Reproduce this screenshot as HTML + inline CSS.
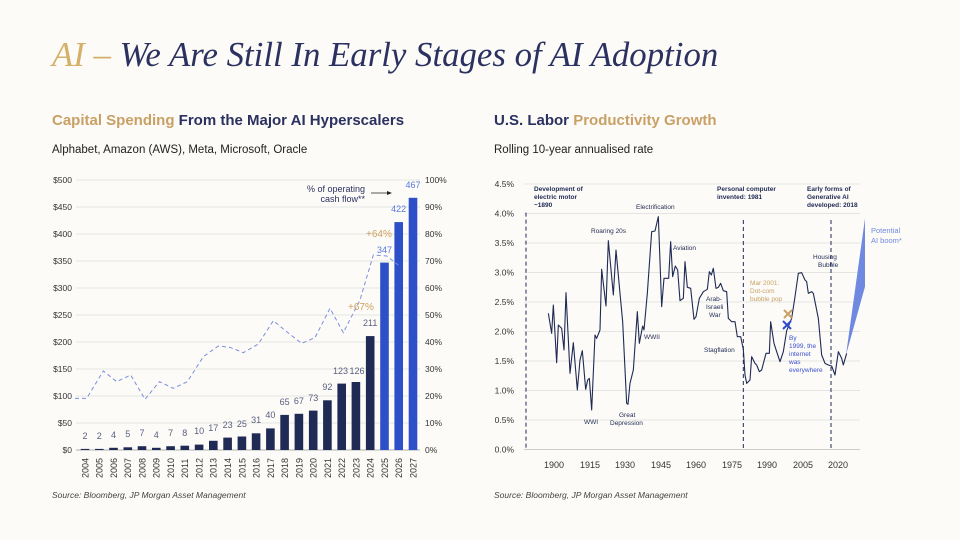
<!DOCTYPE html>
<html><head><meta charset="utf-8"><style>
body{margin:0;background:#fcfbf7;}
svg{display:block;font-family:"Liberation Sans",sans-serif;}
</style></head><body>
<svg width="960" height="540" viewBox="0 0 960 540">
<rect width="960" height="540" fill="#fcfbf7"/>
<text x="52" y="66" font-family="Liberation Serif" font-style="italic" font-size="34.8" fill="#2b3160"><tspan fill="#d4b06a">AI – </tspan>We Are Still In Early Stages of AI Adoption</text>
<text x="52" y="125" font-size="15" font-weight="bold" fill="#2b3160"><tspan fill="#c9a066">Capital Spending</tspan> From the Major AI Hyperscalers</text>
<text x="52" y="153" font-size="11.5" fill="#222">Alphabet, Amazon (AWS), Meta, Microsoft, Oracle</text>
<text x="494" y="125" font-size="15" font-weight="bold" fill="#2b3160">U.S. Labor <tspan fill="#c9a066">Productivity Growth</tspan></text>
<text x="494" y="153" font-size="11.5" fill="#222">Rolling 10-year annualised rate</text>
<text x="52" y="498" font-size="8.5" font-style="italic" fill="#444">Source: Bloomberg, JP Morgan Asset Management</text>
<text x="494" y="498" font-size="8.5" font-style="italic" fill="#444">Source: Bloomberg, JP Morgan Asset Management</text>

<!-- left chart -->
<g font-size="8.5" fill="#333">
<g stroke="#ddd" stroke-width="0.8">
<line x1="76" x2="420" y1="180" y2="180"/><line x1="76" x2="420" y1="207" y2="207"/><line x1="76" x2="420" y1="234" y2="234"/><line x1="76" x2="420" y1="261" y2="261"/><line x1="76" x2="420" y1="288" y2="288"/><line x1="76" x2="420" y1="315" y2="315"/><line x1="76" x2="420" y1="342" y2="342"/><line x1="76" x2="420" y1="369" y2="369"/><line x1="76" x2="420" y1="396" y2="396"/><line x1="76" x2="420" y1="423" y2="423"/>
</g>
<line x1="76" x2="420" y1="450" y2="450" stroke="#999" stroke-width="0.8"/>
<g text-anchor="end">
<text x="72" y="183">$500</text><text x="72" y="210">$450</text><text x="72" y="237">$400</text><text x="72" y="264">$350</text><text x="72" y="291">$300</text><text x="72" y="318">$250</text><text x="72" y="345">$200</text><text x="72" y="372">$150</text><text x="72" y="399">$100</text><text x="72" y="426">$50</text><text x="72" y="453">$0</text>
</g>
<g>
<text x="425" y="183">100%</text><text x="425" y="210">90%</text><text x="425" y="237">80%</text><text x="425" y="264">70%</text><text x="425" y="291">60%</text><text x="425" y="318">50%</text><text x="425" y="345">40%</text><text x="425" y="372">30%</text><text x="425" y="399">20%</text><text x="425" y="426">10%</text><text x="425" y="453">0%</text>
</g>
</g>
<g fill="#1f2a55">
<rect x="80.7" y="448.9" width="8.6" height="1.1"/>
<rect x="95.0" y="448.9" width="8.6" height="1.1"/>
<rect x="109.2" y="447.8" width="8.6" height="2.2"/>
<rect x="123.5" y="447.3" width="8.6" height="2.7"/>
<rect x="137.7" y="446.2" width="8.6" height="3.8"/>
<rect x="152.0" y="447.8" width="8.6" height="2.2"/>
<rect x="166.3" y="446.2" width="8.6" height="3.8"/>
<rect x="180.5" y="445.7" width="8.6" height="4.3"/>
<rect x="194.8" y="444.6" width="8.6" height="5.4"/>
<rect x="209.0" y="440.8" width="8.6" height="9.2"/>
<rect x="223.3" y="437.6" width="8.6" height="12.4"/>
<rect x="237.6" y="436.5" width="8.6" height="13.5"/>
<rect x="251.8" y="433.3" width="8.6" height="16.7"/>
<rect x="266.1" y="428.4" width="8.6" height="21.6"/>
<rect x="280.3" y="414.9" width="8.6" height="35.1"/>
<rect x="294.6" y="413.8" width="8.6" height="36.2"/>
<rect x="308.9" y="410.6" width="8.6" height="39.4"/>
<rect x="323.1" y="400.3" width="8.6" height="49.7"/>
<rect x="337.4" y="383.6" width="8.6" height="66.4"/>
<rect x="351.6" y="382.0" width="8.6" height="68.0"/>
<rect x="365.9" y="336.1" width="8.6" height="113.9"/>
</g>
<g fill="#2d4fc8">
<rect x="380.2" y="262.6" width="8.6" height="187.4"/>
<rect x="394.4" y="222.1" width="8.6" height="227.9"/>
<rect x="408.7" y="197.8" width="8.6" height="252.2"/>
</g>
<g font-size="9" text-anchor="middle" fill="#5a6080">
<text x="85.0" y="439">2</text><text x="99.3" y="439">2</text><text x="113.5" y="438">4</text><text x="127.8" y="437">5</text><text x="142.0" y="436">7</text><text x="156.3" y="438">4</text><text x="170.6" y="436">7</text><text x="184.8" y="436">8</text><text x="199.1" y="434">10</text><text x="213.3" y="431">17</text><text x="227.6" y="428">23</text><text x="241.9" y="427">25</text><text x="256.1" y="423">31</text><text x="270.4" y="418">40</text><text x="284.6" y="405">65</text><text x="298.9" y="404">67</text><text x="313.2" y="401">73</text><text x="327.4" y="390">92</text><text x="340.5" y="374">123</text><text x="357" y="374">126</text><text x="370.2" y="326">211</text>
<g fill="#5a78e0"><text x="384.5" y="253">347</text><text x="398.7" y="212">422</text><text x="413" y="188">467</text></g>
</g>
<g font-size="9" fill="#333">
<text transform="translate(88.4,478) rotate(-90)">2004</text><text transform="translate(102.7,478) rotate(-90)">2005</text><text transform="translate(116.9,478) rotate(-90)">2006</text><text transform="translate(131.2,478) rotate(-90)">2007</text><text transform="translate(145.4,478) rotate(-90)">2008</text><text transform="translate(159.7,478) rotate(-90)">2009</text><text transform="translate(174,478) rotate(-90)">2010</text><text transform="translate(188.2,478) rotate(-90)">2011</text><text transform="translate(202.5,478) rotate(-90)">2012</text><text transform="translate(216.7,478) rotate(-90)">2013</text><text transform="translate(231,478) rotate(-90)">2014</text><text transform="translate(245.3,478) rotate(-90)">2015</text><text transform="translate(259.5,478) rotate(-90)">2016</text><text transform="translate(273.8,478) rotate(-90)">2017</text><text transform="translate(288,478) rotate(-90)">2018</text><text transform="translate(302.3,478) rotate(-90)">2019</text><text transform="translate(316.6,478) rotate(-90)">2020</text><text transform="translate(330.8,478) rotate(-90)">2021</text><text transform="translate(345.1,478) rotate(-90)">2022</text><text transform="translate(359.3,478) rotate(-90)">2023</text><text transform="translate(373.6,478) rotate(-90)">2024</text><text transform="translate(387.9,478) rotate(-90)">2025</text><text transform="translate(402.1,478) rotate(-90)">2026</text><text transform="translate(416.4,478) rotate(-90)">2027</text>
</g>
<g transform="translate(40,170) scale(0.33333)">
<polyline fill="none" stroke="#7b8fe0" stroke-width="1" vector-effect="non-scaling-stroke" stroke-dasharray="4,3" points="105,685 140,685 190,603 230,635 272,615 315,688 358,635 400,655 442,635 490,560 535,528 570,532 610,548 655,522 700,452 740,485 785,520 825,503 870,415 910,488 960,390 1000,255 1040,258 1075,285"/>
</g>
<text x="348" y="310" font-size="10" fill="#d0a060">+67%</text>
<text x="366" y="237" font-size="10" fill="#d0a060">+64%</text>
<text x="365" y="192" font-size="9" text-anchor="end" fill="#2b3160">% of operating</text>
<text x="365" y="202" font-size="9" text-anchor="end" fill="#2b3160">cash flow**</text>
<line x1="371" y1="193" x2="390" y2="193" stroke="#222" stroke-width="0.8"/>
<polygon points="392,193 387,191 387,195" fill="#222"/>

<!-- right chart -->
<g font-size="8.5" fill="#333">
<g stroke="#ddd" stroke-width="0.8">
<line x1="524" x2="860" y1="184" y2="184"/><line x1="524" x2="860" y1="213.5" y2="213.5"/><line x1="524" x2="860" y1="243" y2="243"/><line x1="524" x2="860" y1="272.5" y2="272.5"/><line x1="524" x2="860" y1="302" y2="302"/><line x1="524" x2="860" y1="331.5" y2="331.5"/><line x1="524" x2="860" y1="361" y2="361"/><line x1="524" x2="860" y1="390.5" y2="390.5"/><line x1="524" x2="860" y1="420" y2="420"/>
</g>
<line x1="524" x2="860" y1="449.5" y2="449.5" stroke="#bbb" stroke-width="0.8"/>
<g text-anchor="end">
<text x="514" y="187">4.5%</text><text x="514" y="216.5">4.0%</text><text x="514" y="246">3.5%</text><text x="514" y="275.5">3.0%</text><text x="514" y="305">2.5%</text><text x="514" y="334.5">2.0%</text><text x="514" y="364">1.5%</text><text x="514" y="393.5">1.0%</text><text x="514" y="423">0.5%</text><text x="514" y="452.5">0.0%</text>
</g>
<g text-anchor="middle" font-size="9">
<text x="554" y="468">1900</text><text x="590" y="468">1915</text><text x="625" y="468">1930</text><text x="661" y="468">1945</text><text x="696" y="468">1960</text><text x="732" y="468">1975</text><text x="767" y="468">1990</text><text x="803" y="468">2005</text><text x="838" y="468">2020</text>
</g>
</g>
<g transform="translate(490,170) scale(0.33333)">
<polyline fill="none" stroke="#1f2a55" stroke-width="1.1" vector-effect="non-scaling-stroke" stroke-linejoin="round" points="175,430 185,490 190,405 200,578 205,465 215,475 222,540 228,368 240,610 250,518 262,660 270,570 277,542 287,658 293,630 298,625 305,720 315,495 320,505 330,480 335,298 348,408 355,212 370,375 378,240 390,370 398,455 410,700 414,703 420,640 430,600 442,425 448,520 458,468 462,480 472,370 485,185 495,183 505,140 515,410 522,325 536,325 542,215 548,320 556,288 563,300 570,392 580,385 585,275 592,352 602,355 612,448 618,440 628,385 640,365 652,358 658,305 664,315 670,295 678,355 685,352 692,340 700,362 710,365 715,445 725,455 735,455 742,500 752,500 760,538 765,615 770,640 780,630 785,560 795,580 800,585 808,605 815,600 828,550 838,550 842,455 852,520 860,545 870,575 880,545 890,482 905,445 915,380 925,310 935,308 945,330 950,335 955,370 965,365 970,370 985,445 995,555 1005,580 1015,585 1025,588 1035,615 1045,545 1055,565 1060,585 1070,550"/>
<polygon points="1068,555 1125,145 1125,350" fill="#7089e0"/>
<g stroke="#1f2a55" stroke-width="1" stroke-dasharray="4,3">
<line x1="108" y1="128" x2="108" y2="838" vector-effect="non-scaling-stroke"/>
<line x1="760" y1="150" x2="760" y2="838" vector-effect="non-scaling-stroke"/>
<line x1="1023" y1="150" x2="1023" y2="838" vector-effect="non-scaling-stroke"/>
</g>
</g>
<g font-size="6.5" fill="#1f2a55">
<text x="534" y="191" font-weight="bold">Development of</text><text x="534" y="199" font-weight="bold">electric motor</text><text x="534" y="207" font-weight="bold">~1890</text>
<text x="717" y="191" font-weight="bold">Personal computer</text><text x="717" y="199" font-weight="bold">invented: 1981</text>
<text x="807" y="191" font-weight="bold">Early forms of</text><text x="807" y="199" font-weight="bold">Generative AI</text><text x="807" y="207" font-weight="bold">developed: 2018</text>
<text x="636" y="209">Electrification</text>
<text x="591" y="233">Roaring 20s</text>
<text x="673" y="250">Aviation</text>
<text x="813" y="259">Housing</text><text x="818" y="267">Bubble</text>
<text x="706" y="301">Arab-</text><text x="706" y="309">Israeli</text><text x="709" y="317">War</text>
<text x="644" y="339">WWII</text>
<text x="704" y="352">Stagflation</text>
<text x="584" y="424">WWI</text>
<text x="619" y="417">Great</text><text x="610" y="425">Depression</text>
<text x="750" y="285" fill="#c9a066">Mar 2001:</text><text x="750" y="293" fill="#c9a066">Dot-com</text><text x="750" y="301" fill="#c9a066">bubble pop</text>
<text x="789" y="340" fill="#3a50d0">By</text><text x="789" y="348" fill="#3a50d0">1999, the</text><text x="789" y="356" fill="#3a50d0">internet</text><text x="789" y="364" fill="#3a50d0">was</text><text x="789" y="372" fill="#3a50d0">everywhere</text>
<text x="871" y="233" fill="#7089e0" font-size="7.5">Potential</text><text x="871" y="243" fill="#7089e0" font-size="7.5">AI boom*</text>
</g>
<g stroke-width="2">
<path d="M784,310 l8,8 M792,310 l-8,8" stroke="#c9a066"/>
<path d="M783,321 l8,8 M791,321 l-8,8" stroke="#2d4ad0"/>
</g>
</svg>
</body></html>
